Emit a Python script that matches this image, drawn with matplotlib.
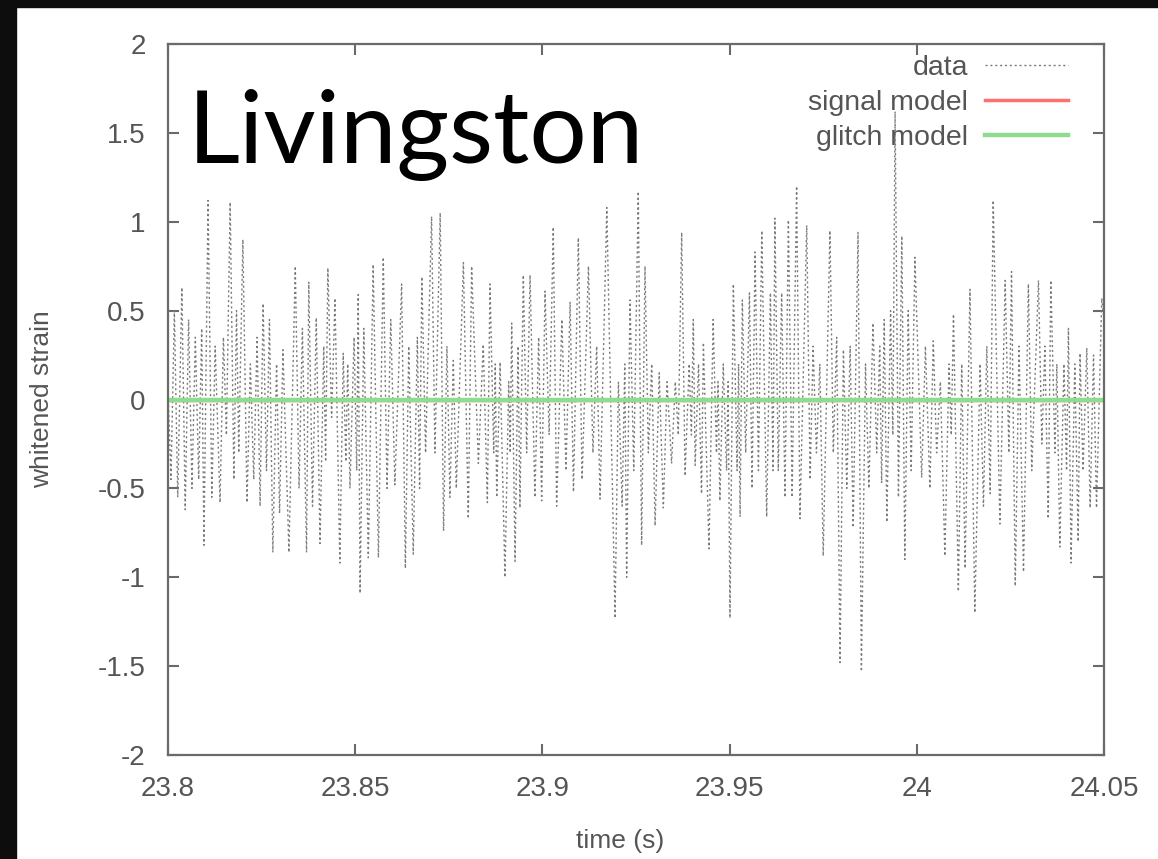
import numpy as np
import matplotlib
matplotlib.use("Agg")
import matplotlib.pyplot as plt
from matplotlib.patches import Rectangle

# whitened strain around the event, Livingston detector
# sample times in ms after 23.8 s, with the strain at each turning point
t_ms = [
    0.0, 0.8, 1.7, 2.6, 3.7, 4.6, 5.5, 6.4, 7.3, 8.2, 9.0, 9.6, 10.7, 11.7, 12.6,
    13.9, 14.8, 15.6, 16.6, 17.6, 18.3, 18.9, 20.0, 21.1, 22.0, 22.9, 23.8, 24.6,
    25.4, 26.3, 27.1, 28.0, 29.0, 29.8, 30.7, 32.3, 34.0, 35.0, 35.9, 37.0, 37.6,
    38.6, 39.6, 40.6, 41.6, 42.1, 42.7, 43.7, 44.6, 45.9, 46.8, 47.5, 48.0, 48.6,
    49.7, 50.4, 50.8, 51.3, 52.3, 53.5, 54.8, 56.2, 57.5, 58.5, 59.5, 60.6, 62.4,
    63.4, 64.3, 65.5, 66.6, 67.2, 67.8, 68.8, 70.4, 71.3, 72.7, 73.6, 74.5, 75.3,
    76.2, 77.0, 78.9, 80.2, 81.1, 82.9, 84.2, 85.3, 86.0, 87.0, 87.4, 87.8, 88.7,
    90.0, 91.0, 91.4, 91.8, 92.7, 93.5, 94.0, 94.9, 95.8, 96.7, 98.0, 99.0, 99.8,
    100.7, 101.8, 102.9, 103.8, 105.2, 106.3, 107.4, 108.3, 109.6, 110.6, 112.3,
    113.5, 114.5, 115.4, 117.2, 119.4, 120.3, 121.3, 122.0, 122.5, 123.4, 124.4,
    125.6, 126.5, 127.4, 128.3, 129.2, 130.1, 131.2, 132.3, 133.3, 134.5, 135.5,
    136.3, 137.2, 138.1, 139.2, 139.8, 140.3, 140.8, 141.7, 142.5, 143.0, 144.5,
    145.6, 146.5, 146.9, 147.4, 148.3, 149.2, 149.6, 150.1, 151.0, 152.0, 152.4,
    152.8, 153.4, 154.3, 155.3, 156.0, 156.8, 157.7, 158.6, 159.9, 160.9, 161.6,
    162.1, 163.0, 163.9, 164.8, 165.7, 166.7, 167.9, 168.8, 170.6, 171.5, 172.3,
    173.2, 174.1, 175.0, 176.8, 177.7, 178.6, 179.5, 180.4, 181.3, 182.2, 183.0,
    184.3, 185.2, 186.3, 187.2, 188.3, 189.3, 190.1, 190.6, 191.3, 192.0, 193.0,
    193.6, 194.2, 195.1, 196.0, 196.8, 197.7, 198.5, 199.5, 201.3, 202.3, 203.5,
    204.4, 205.3, 206.3, 207.5, 208.6, 209.2, 209.8, 211.1, 212.0, 212.9, 214.2,
    215.5, 216.9, 217.8, 218.7, 219.6, 220.4, 222.2, 223.6, 224.6, 225.3, 226.3,
    227.3, 228.5, 229.8, 230.7, 232.5, 233.4, 234.2, 235.1, 235.8, 236.9, 237.4,
    238.2, 239.3, 240.0, 240.5, 241.2, 242.2, 243.1, 243.6, 244.4, 245.4, 246.3,
    247.2, 248.0, 249.4, 250.0,
]
strain = [
    0.05, -0.45, 0.5, -0.55, 0.63, -0.62, 0.45, -0.5, 0.35, -0.45, 0.4, -0.82, 1.12, -0.55, 0.3,
    -0.58, 0.35, -0.2, 1.11, -0.45, 0.5, -0.3, 0.9, -0.58, 0.2, -0.45, 0.35, -0.6,
    0.54, -0.4, 0.45, -0.86, 0.2, -0.64, 0.28, -0.86, 0.75, -0.5, 0.4, -0.86, 0.66,
    -0.6, 0.46, -0.81, 0.3, -0.35, 0.74, -0.1, 0.57, -0.92, 0.26, -0.35, 0.2, -0.5,
    0.35, -0.4, 0.59, -1.09, 0.4, -0.89, 0.76, -0.89, 0.8, -0.5, 0.45, -0.48, 0.65,
    -0.95, 0.3, -0.87, 0.35, -0.5, 0.69, -0.3, 1.03, -0.3, 1.05, -0.74, 0.3, -0.55,
    0.22, -0.5, 0.77, -0.67, 0.75, -0.36, 0.31, -0.58, 0.65, -0.3, 0.2, -0.55, 0.21,
    -1.0, 0.1, -0.3, 0.43, -0.91, 0.3, -0.61, 0.7, -0.3, 0.7, -0.55, 0.35, -0.57,
    0.61, -0.2, 0.97, -0.6, 0.45, -0.4, 0.55, -0.52, 0.91, -0.45, 0.75,
    -0.3, 0.3, -0.56, 1.08, -1.23, 0.1, -0.6, 0.2, -1.0, 0.56, -0.4,
    1.17, -0.82, 0.75, -0.3, 0.2, -0.71, 0.15, -0.61, 0.1, -0.36, 0.1,
    -0.2, 0.94, -0.43, 0.2, -0.2, 0.45, -0.37, 0.2, -0.53, 0.32, -0.84,
    0.45, -0.3, 0.1, -0.57, 0.2, -0.4, 0.1, -1.23, 0.65, -0.4, 0.2,
    -0.66, 0.56, -0.3, 0.6, -0.5, 0.83, -0.4, 0.95, -0.66, 0.6, -0.4,
    1.02, -0.4, 0.6, -0.55, 1.01, -0.55, 1.2, -0.67, 0.98, -0.45, 0.3,
    -0.3, 0.2, -0.88, 0.95, -0.3, 0.35, -1.48, 0.28, -0.5, 0.3, -0.72,
    0.94, -1.53, 0.2, -0.5, 0.43, -0.3, 0.3, -0.47, 0.45, -0.69, 0.5,
    -0.2, 1.62, -0.55, 0.92, -0.9, 0.5, -0.4, 0.8, -0.44, 0.3, -0.5,
    0.33, -0.3, 0.1, -0.88, 0.2, -0.2, 0.48, -1.08, 0.2, -0.95, 0.62,
    -1.2, 0.2, -0.6, 0.3, -0.53, 1.12, -0.7, 0.67, -0.3, 0.72, -1.05,
    0.3, -0.97, 0.65, -0.4, 0.67, -0.25, 0.3, -0.67, 0.67, -0.3, 0.2,
    -0.83, 0.2, -0.4, 0.4, -0.92, 0.2, -0.8, 0.26, -0.4, 0.29, -0.61,
    0.25, -0.61, 0.57, 0.45,
]
t_start = 23.8

# both models sit flat at zero over the window
model_t = [23.8, 24.05]
signal_model = [0.0, 0.0]
glitch_model = [0.0, 0.0]

x_ticks = [23.8, 23.85, 23.9, 23.95, 24.0, 24.05]
x_labels = ['23.8', '23.85', '23.9', '23.95', '24', '24.05']
y_ticks = [-2, -1.5, -1, -0.5, 0, 0.5, 1, 1.5, 2]
y_labels = ['-2', '-1.5', '-1', '-0.5', '0', '0.5', '1', '1.5', '2']

plt.rcParams['font.family'] = ['Liberation Sans', 'DejaVu Sans']
grey = '#555555'

fig = plt.figure(figsize=(11.58, 8.59), dpi=100)
fig.patch.set_facecolor('white')

# dark slide edges
fig.add_artist(Rectangle((0, 1 - 7 / 859), 1, 7 / 859, transform=fig.transFigure,
                         color='#0d0d0d', zorder=10))
fig.add_artist(Rectangle((0, 0), 16 / 1158, 1, transform=fig.transFigure,
                         color='#0d0d0d', zorder=10))

ax = fig.add_axes([168 / 1158, 1 - 755 / 859, 936 / 1158, 711 / 859])

t = t_start + np.array(t_ms) / 1000.0
ax.plot(t, strain, color='#7a7a7a', lw=1.0, dashes=(1.5, 2.0), label='data')
ax.plot(model_t, signal_model, color='#ff6f6f', lw=2.5, label='signal model')
ax.plot(model_t, glitch_model, color='#8fdc8f', lw=3.2, label='glitch model')

ax.set_xlim(23.8, 24.05)
ax.set_ylim(-2, 2)
ax.set_xticks(x_ticks)
ax.set_xticklabels(x_labels)
ax.set_yticks(y_ticks)
ax.set_yticklabels(y_labels)

for sp in ax.spines.values():
    sp.set_color('#6a6a6a')
    sp.set_linewidth(1.6)

ax.tick_params(direction='in', length=8, width=1.5, color='#6a6a6a',
               top=True, right=True, labelsize=20, labelcolor=grey)
ax.tick_params(axis='x', pad=15)
ax.tick_params(axis='y', pad=16)

ax.set_xlabel('time (s)', fontsize=19, color=grey)
ax.set_ylabel('whitened strain', fontsize=19, color=grey)
ax.xaxis.set_label_coords(0.483, -0.104)
ax.yaxis.set_label_coords(-0.122, 0.5)

leg = ax.legend(loc='upper right', bbox_to_anchor=(1 - 36 / 936, 1 - 11 / 711),
                frameon=False, markerfirst=False, fontsize=20.5,
                handlelength=2.9, handletextpad=0.6, labelspacing=0.32,
                borderpad=0.0, borderaxespad=0.0)
for txt in leg.get_texts():
    txt.set_color(grey)

fig.text(188 / 1158, 1 - 163 / 859, 'Livingston', fontsize=73, family='Lato',
         color='black', va='baseline', ha='left')

fig.savefig('out.png', dpi=100)
